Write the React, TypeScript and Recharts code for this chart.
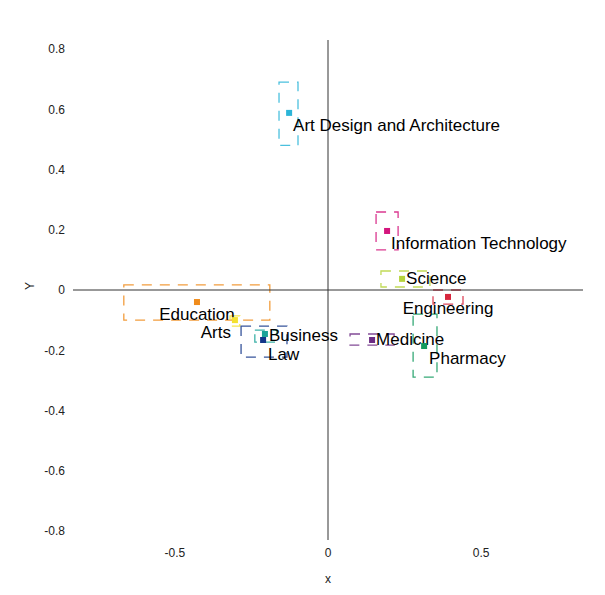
import { ScatterChart, Scatter, XAxis, YAxis, ReferenceLine, ReferenceArea } from "recharts"

const names = ["Art Design and Architecture", "Information Technology", "Science", "Engineering", "Medicine", "Pharmacy", "Education", "Arts", "Business", "Law"]
const xs = [-0.127, 0.193, 0.242, 0.392, 0.144, 0.314, -0.428, -0.304, -0.206, -0.212]
const ys = [0.588, 0.196, 0.037, -0.023, -0.166, -0.186, -0.04, -0.1, -0.146, -0.166]
const xLo = [-0.16, 0.157, 0.173, 0.343, 0.072, 0.278, -0.667, -0.32, -0.239, -0.284]
const xHi = [-0.098, 0.229, 0.333, 0.441, 0.216, 0.356, -0.19, -0.288, -0.167, -0.134]
const yLo = [0.48, 0.133, 0.01, -0.047, -0.183, -0.289, -0.1, -0.12, -0.173, -0.223]
const yHi = [0.69, 0.259, 0.063, 0, -0.146, -0.08, 0.017, -0.086, -0.133, -0.12]
const colors = ["#2cb5d8", "#d4157d", "#b5d33a", "#d7263d", "#6c2c84", "#129a5e", "#f08c1b", "#f4e12f", "#1ba399", "#13368a"]
const xTicks = [-0.5, 0, 0.5]
const yTicks = [-0.8, -0.6, -0.4, -0.2, 0, 0.2, 0.4, 0.6, 0.8]

// label placement relative to the point: [dx, dy, anchor]
const labelPos: [number, number, string][] = [
  [4, 12, "start"], [4, 12, "start"], [4, -1, "start"], [0, 11, "middle"], [4, -1, "start"],
  [5, 12, "start"], [0, 12, "middle"], [-4, 12, "end"], [4, 1, "start"], [5, 14, "start"],
]

const data = names.map((n, i) => ({ name: n, x: xs[i], y: ys[i], i }))
const font = "Liberation Sans, Arial, sans-serif"

const Point = (p: any) => {
  const i = p.payload.i
  const [dx, dy, anchor] = labelPos[i]
  return (
    <g>
      <rect x={p.cx - 3} y={p.cy - 3} width={6} height={6} fill={colors[i]} />
      <text x={p.cx + dx} y={p.cy + dy} dy="0.35em" textAnchor={anchor as any} fontSize={17} fontFamily={font} fill="#000">{p.payload.name}</text>
    </g>
  )
}

const fmt = (v: number) => (v === 0 ? "0" : String(Number(v.toFixed(1))))

export default function App() {
  return (
    <div style={{ margin: -8 }}>
      <ScatterChart width={605} height={595} margin={{ top: 40, right: 22, bottom: 0, left: 0 }}>
        <XAxis type="number" dataKey="x" domain={[-0.833, 0.833]} ticks={xTicks} tickFormatter={fmt} axisLine={false} tickLine={false}
          height={55} tick={{ fontSize: 12, fill: "#222", fontFamily: font }}
          label={{ value: "x", position: "insideBottom", offset: 12, fontSize: 12, fill: "#222", fontFamily: font }} />
        <YAxis type="number" dataKey="y" domain={[-0.83, 0.83]} ticks={yTicks} tickFormatter={fmt} axisLine={false} tickLine={false}
          width={73} tick={{ fontSize: 12, fill: "#222", fontFamily: font }}
          label={{ value: "Y", angle: -90, position: "insideLeft", offset: 30, fontSize: 12, fill: "#222", fontFamily: font }} />
        <ReferenceLine x={0} stroke="#333" />
        <ReferenceLine y={0} stroke="#333" />
        {names.map((n, i) => (
          <ReferenceArea key={n} x1={xLo[i]} x2={xHi[i]} y1={yLo[i]} y2={yHi[i]} fill="none" stroke={colors[i]}
            strokeDasharray="10 8" strokeOpacity={0.85} strokeWidth={1.3} ifOverflow="visible" />
        ))}
        <Scatter data={data} shape={Point} isAnimationActive={false} />
      </ScatterChart>
    </div>
  )
}
